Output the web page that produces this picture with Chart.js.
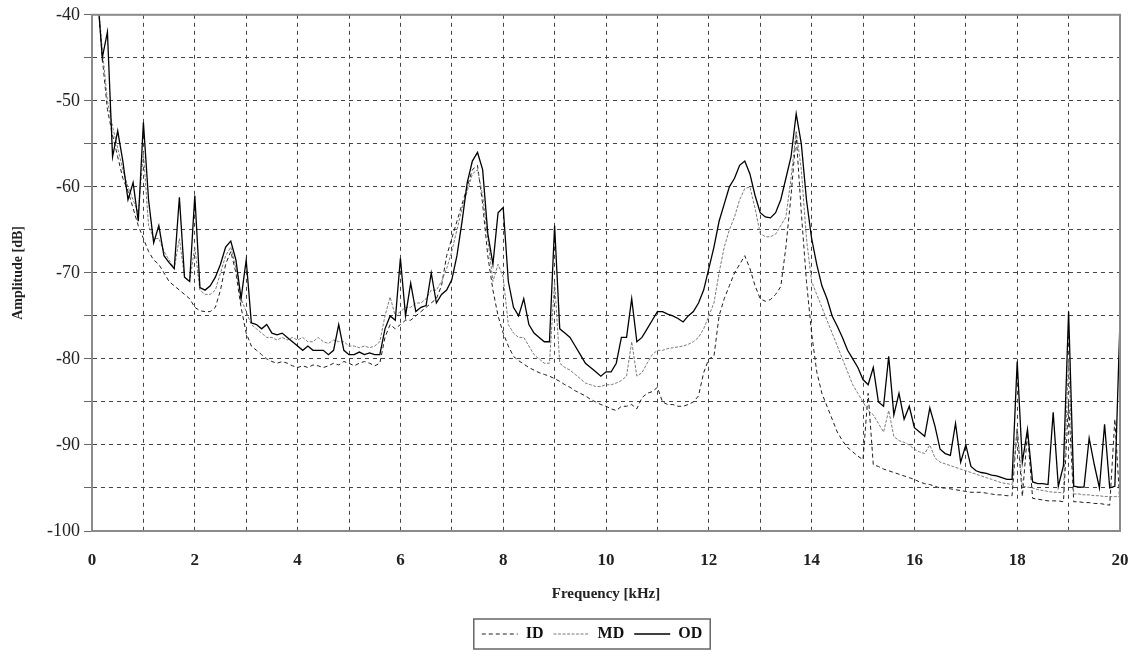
<!DOCTYPE html>
<html>
<head>
<meta charset="utf-8">
<script src="https://cdn.jsdelivr.net/npm/chart.js@4.4.1/dist/chart.umd.min.js"></script>
<style>
  html, body { margin: 0; padding: 0; background: #fff; }
  #wrap { width: 1138px; height: 651px; }
</style>
</head>
<body>
<div id="wrap"><canvas id="chSpectrum"></canvas></div>
<script>
// frequency axis, kHz
var freqKHz = [
  0.1, 0.2, 0.3, 0.4, 0.5, 0.6, 0.7, 0.8, 0.9, 1.0,
  1.1, 1.2, 1.3, 1.4, 1.5, 1.6, 1.7, 1.8, 1.9, 2.0,
  2.1, 2.2, 2.3, 2.4, 2.5, 2.6, 2.7, 2.8, 2.9, 3.0,
  3.1, 3.2, 3.3, 3.4, 3.5, 3.6, 3.7, 3.8, 3.9, 4.0,
  4.1, 4.2, 4.3, 4.4, 4.5, 4.6, 4.7, 4.8, 4.9, 5.0,
  5.1, 5.2, 5.3, 5.4, 5.5, 5.6, 5.7, 5.8, 5.9, 6.0,
  6.1, 6.2, 6.3, 6.4, 6.5, 6.6, 6.7, 6.8, 6.9, 7.0,
  7.1, 7.2, 7.3, 7.4, 7.5, 7.6, 7.7, 7.8, 7.9, 8.0,
  8.1, 8.2, 8.3, 8.4, 8.5, 8.6, 8.7, 8.8, 8.9, 9.0,
  9.1, 9.2, 9.3, 9.4, 9.5, 9.6, 9.7, 9.8, 9.9, 10.0,
  10.1, 10.2, 10.3, 10.4, 10.5, 10.6, 10.7, 10.8, 10.9, 11.0,
  11.1, 11.2, 11.3, 11.4, 11.5, 11.6, 11.7, 11.8, 11.9, 12.0,
  12.1, 12.2, 12.3, 12.4, 12.5, 12.6, 12.7, 12.8, 12.9, 13.0,
  13.1, 13.2, 13.3, 13.4, 13.5, 13.6, 13.7, 13.8, 13.9, 14.0,
  14.1, 14.2, 14.3, 14.4, 14.5, 14.6, 14.7, 14.8, 14.9, 15.0,
  15.1, 15.2, 15.3, 15.4, 15.5, 15.6, 15.7, 15.8, 15.9, 16.0,
  16.1, 16.2, 16.3, 16.4, 16.5, 16.6, 16.7, 16.8, 16.9, 17.0,
  17.1, 17.2, 17.3, 17.4, 17.5, 17.6, 17.7, 17.8, 17.9, 18.0,
  18.1, 18.2, 18.3, 18.4, 18.5, 18.6, 18.7, 18.8, 18.9, 19.0,
  19.1, 19.2, 19.3, 19.4, 19.5, 19.6, 19.7, 19.8, 19.9, 20.0
];

// amplitude, dB
var idDb = [
  -37, -45, -51, -54, -56.5, -59, -60.5, -62.5, -64.5, -66,
  -67.5, -68.5, -69, -70, -71, -71.5, -72, -72.5, -73, -74,
  -74.4, -74.5, -74.5, -74, -72, -69, -67.5, -70, -74, -77,
  -78.5, -79, -79.5, -80, -80.3, -80.5, -80.3, -80.5, -80.8, -81,
  -80.8, -81, -80.7, -80.8, -81, -80.8, -80.5, -80.7, -80.3, -80.5,
  -80.8, -80.5, -80.3, -80.5, -80.8, -80.5, -77.5, -76, -76.5, -76,
  -75.5, -75.5, -75, -74.5, -74, -73.5, -73, -71.5, -68, -66,
  -64, -62, -60, -58, -57.5, -62, -68, -72, -75, -77,
  -78.5, -79.7, -80.2, -80.6, -81, -81.3, -81.6, -81.8, -82, -82.3,
  -82.6, -83, -83.3, -83.7, -84, -84.3, -84.7, -85, -85.3, -85.5,
  -85.8, -86, -85.5, -85.5, -85.3, -85.8, -84.5, -84, -83.8, -83.3,
  -85, -85.3, -85.3, -85.5, -85.5, -85.3, -85, -84.3, -81.6, -80,
  -79.7, -75, -73, -71.5, -70, -69, -68, -69.5, -71.5, -73,
  -73.3, -73.1, -72.5, -71.6, -67, -61, -54, -63, -71, -77,
  -81.5, -84, -85.5, -87, -88.5, -89.5, -90.3, -90.8, -91.3, -91.7,
  -84, -92.3, -92.5, -92.8, -93, -93.2, -93.4, -93.6, -93.8, -94,
  -94.3, -94.5, -94.6, -94.8, -95, -95, -95.1, -95.2, -95.3, -95.4,
  -95.5, -95.5, -95.5, -95.6, -95.7, -95.8, -95.8, -95.9, -95.9, -88,
  -96, -88.6, -96.2, -96.3, -96.4, -96.5, -96.5, -96.5, -96.6, -85,
  -96.6, -96.6, -96.7, -96.7, -96.8, -96.8, -96.9, -97, -87, -97
];

var mdDb = [
  -37, -44, -50, -53, -55.5, -58, -60, -61.5, -63, -56,
  -64.5, -66, -66, -67.5, -68.5, -69.5, -66, -70.5, -71, -67,
  -72, -72.5, -72.5, -72, -70, -68, -67, -69.5, -73, -74.5,
  -76, -76.5, -77, -77.5, -77.5, -77.8, -77.5, -77.8, -77.5, -77.8,
  -77.5, -78, -78, -77.5, -78, -78.2, -77.8, -78, -78, -78.5,
  -78.5, -78.7, -78.5, -78.7, -78.5, -78, -75, -72.8, -75, -74.5,
  -74, -74, -73.5, -73.5, -73, -72, -72, -71, -69.5, -67.5,
  -65, -62.5, -60.5, -58.5, -58, -61, -66, -71, -69, -70.5,
  -76, -77, -77.5, -77.5, -78.5, -79.5, -80, -80.5, -80.5, -71,
  -80.5, -81, -81.3, -81.8, -82.3, -82.8, -83, -83.2, -83.2, -83,
  -83, -82.8, -82.5, -82, -78, -82, -81.6, -80.5, -79.5, -79,
  -79, -78.8, -78.7, -78.6, -78.5, -78.3, -78, -77.5, -76.5, -75,
  -73.5, -70, -67, -65, -63.5, -61.5, -60.2, -60, -62.5, -65.4,
  -65.8, -65.8, -65.5, -64.5, -63.5, -59, -53.5, -58, -66, -71,
  -72.5, -74, -75.5, -77, -78.5, -80, -81.5, -83, -84, -85,
  -86, -86.5, -87.5, -88.5, -86, -89, -89.5, -89.7, -90, -90.5,
  -90.8, -91, -90, -91.5, -92, -92.2, -92.4, -92.6, -92.8, -93,
  -93.2, -93.4, -93.6, -93.8, -94, -94.2, -94.4, -94.5, -94.6, -88,
  -94.8, -94.9, -95, -95.2, -95.3, -95.4, -95.5, -95.5, -95.6, -80,
  -95.7, -95.7, -95.8, -95.8, -95.9, -95.9, -96, -96, -96, -96
];

var odDb = [
  -37, -45, -42, -56.5, -53.5, -57, -61.5, -59.5, -64, -52.5,
  -61.5, -66.5, -64.5, -68, -68.8, -69.5, -61.2, -70.5, -71, -61,
  -71.7, -72, -71.5, -70.5, -69, -67, -66.3, -68.5, -73, -68.5,
  -75.8, -76, -76.5, -76, -77, -77.2, -77, -77.5, -78, -78.5,
  -79, -78.5, -79, -79, -79, -79.5, -79, -76, -79, -79.5,
  -79.5, -79.2, -79.5, -79.3, -79.5, -79.5, -76.5, -75, -75.5, -68.3,
  -75, -71.2, -74.5, -74, -73.8, -70, -73.5, -72.5, -72, -70.8,
  -68, -64, -59.5, -57, -56, -58, -65.4, -69, -63, -62.4,
  -71, -74, -75, -73, -76, -77, -77.5, -78, -78, -64.5,
  -76.5, -77, -77.5, -78.5, -79.5, -80.5, -81, -81.5, -82, -81.5,
  -81.5, -80.5, -77.5, -77.5, -73, -78, -77.5, -76.5, -75.5, -74.5,
  -74.5, -74.8, -75, -75.3, -75.7, -75, -74.5, -73.5, -72, -69.5,
  -67, -64, -62, -60, -59, -57.5, -57, -58.5, -61, -63,
  -63.5, -63.6, -63, -61.5, -59, -56.5, -51.5, -55, -61.5, -66,
  -69, -71.5, -73, -75, -76.2, -77.5, -79, -80, -81, -82.4,
  -83, -81, -85, -85.5, -79.7, -86.5, -84, -87, -85.5, -88,
  -88.5, -89, -85.7, -87.8, -90.5, -91, -91.2, -87.5, -92, -90,
  -92.5, -93, -93.2, -93.3, -93.5, -93.6, -93.8, -94, -94, -80.3,
  -92, -88.2, -94.3, -94.5, -94.5, -94.6, -86.2, -94.8, -92.4, -74.5,
  -94.8, -94.9, -94.9, -89.2, -92.3, -95, -87.6, -95, -94.8, -75.5
];

var seriesNames = ["ID", "MD", "OD"];

function toPoints(vals) {
  return freqKHz.map(function (f, i) { return { x: f, y: vals[i] }; });
}

var serif = "'Liberation Serif', 'Times New Roman', serif";

// nudge the legend to sit under the plot like the original
var legendNudge = {
  id: "legendNudge",
  afterLayout: function (chart) {
    var lg = chart.legend;
    if (!lg) return;
    lg.left += 27; lg.right += 27;
    lg.top += 5; lg.bottom += 5;
  }
};

// frame round the plot and box round the legend
var framePlugin = {
  id: "frame",
  afterDraw: function (chart) {
    var ctx = chart.ctx, a = chart.chartArea;
    ctx.save();
    ctx.strokeStyle = "#8a8a8a";
    ctx.lineWidth = 2;
    ctx.strokeRect(a.left, a.top, a.right - a.left, a.bottom - a.top);
    var boxes = chart.legend && chart.legend.legendHitBoxes;
    if (boxes && boxes.length) {
      var l = Infinity, r = -Infinity, t = Infinity, b = -Infinity;
      boxes.forEach(function (h) {
        l = Math.min(l, h.left); r = Math.max(r, h.left + h.width);
        t = Math.min(t, h.top); b = Math.max(b, h.top + h.height);
      });
      ctx.lineWidth = 1.5;
      ctx.strokeStyle = "#666";
      ctx.strokeRect(l - 8, t - 7, r - l + 16, b - t + 14);
    }
    ctx.restore();
  }
};

new Chart(document.getElementById("chSpectrum"), {
  type: "line",
  data: {
    datasets: [
      {
        label: seriesNames[0],
        data: toPoints(idDb),
        borderColor: "#1e1e1e",
        borderWidth: 1,
        borderDash: [4, 3],
        pointRadius: 0,
        tension: 0,
        order: 3
      },
      {
        label: seriesNames[1],
        data: toPoints(mdDb),
        borderColor: "#7a7a7a",
        borderWidth: 1,
        borderDash: [3, 1.5],
        pointRadius: 0,
        tension: 0,
        order: 2
      },
      {
        label: seriesNames[2],
        data: toPoints(odDb),
        borderColor: "#000",
        borderWidth: 1.3,
        pointRadius: 0,
        tension: 0,
        order: 1
      }
    ]
  },
  options: {
    responsive: true,
    maintainAspectRatio: false,
    animation: false,
    layout: { padding: { left: 10, right: 18, top: 14, bottom: 4 } },
    plugins: {
      tooltip: { enabled: false },
      legend: {
        position: "bottom",
        labels: {
          usePointStyle: true,
          pointStyle: "line",
          pointStyleWidth: 36,
          boxHeight: 14,
          padding: 10,
          color: "#111",
          font: { family: serif, size: 16, weight: "bold" },
          generateLabels: function (chart) {
            return chart.data.datasets.map(function (ds, i) {
              return {
                text: ds.label,
                strokeStyle: ds.borderColor,
                fillStyle: "rgba(0,0,0,0)",
                lineWidth: ds.borderWidth,
                lineDash: ds.borderDash || [],
                pointStyle: "line",
                fontColor: "#111",
                hidden: false,
                datasetIndex: i
              };
            });
          }
        }
      }
    },
    scales: {
      x: {
        type: "linear",
        min: 0,
        max: 20,
        afterFit: function (s) {
          s.height = 80;
          // end labels may hang past the frame, as in the original
          s.paddingLeft = 0;
          s.paddingRight = 0;
        },
        ticks: {
          stepSize: 1,
          autoSkip: false,
          maxRotation: 0,
          padding: 19,
          color: "#222",
          font: { family: serif, size: 17, weight: "bold" },
          callback: function (v) { return v % 2 === 0 ? v : ""; }
        },
        grid: { color: "#444", lineWidth: 1, drawTicks: false },
        border: { display: true, color: "#8a8a8a", width: 2, dash: [4, 4] },
        title: {
          display: true,
          text: "Frequency [kHz]",
          color: "#222",
          font: { family: serif, size: 15, weight: "bold" },
          padding: { top: 12, bottom: 8 }
        }
      },
      y: {
        min: -100,
        max: -40,
        afterFit: function (s) { s.width = 82; },
        ticks: {
          stepSize: 5,
          autoSkip: false,
          padding: 4,
          color: "#222",
          font: { family: serif, size: 18 },
          callback: function (v) { return v % 10 === 0 ? v : ""; }
        },
        grid: { color: "#444", lineWidth: 1, tickLength: 8, tickColor: "#666", tickBorderDash: [] },
        border: { display: true, color: "#8a8a8a", width: 2, dash: [4, 4] },
        title: {
          display: true,
          text: "Amplitude [dB]",
          color: "#222",
          font: { family: serif, size: 14, weight: "bold" },
          padding: { top: 0, bottom: 6 }
        }
      }
    }
  },
  plugins: [legendNudge, framePlugin]
});
</script>
</body>
</html>
